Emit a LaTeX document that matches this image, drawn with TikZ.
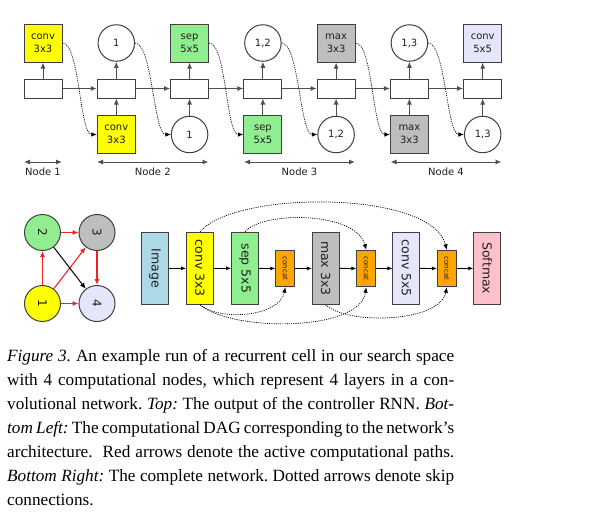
\documentclass[tikz,border=0pt]{standalone}
\usepackage{fontspec}
\usepackage{graphicx}
\setmainfont{DejaVu Sans}
\newfontfamily\capfont{Liberation Serif}
\usetikzlibrary{arrows.meta}
\definecolor{edge}{HTML}{404040}
\definecolor{lin}{HTML}{505050}
\definecolor{txt}{HTML}{202020}
\definecolor{yel}{HTML}{FFFF00}
\definecolor{grn}{HTML}{90EE90}
\definecolor{gry}{HTML}{BEBEBE}
\definecolor{lav}{HTML}{E6E6FA}
\definecolor{lblue}{HTML}{ADD8E6}
\definecolor{orangeC}{HTML}{FFA500}
\definecolor{pinkC}{HTML}{FFC0CB}
\definecolor{redC}{HTML}{EE2222}
\begin{document}
\frenchspacing
\begin{tikzpicture}[x=1pt,y=-1pt,
  every node/.style={text=txt},
  rnn/.style={draw=edge, line width=1pt, fill=white, minimum width=38pt, minimum height=19pt, inner sep=0pt},
  opbox/.style={draw=edge, line width=1pt, minimum width=38pt, minimum height=38pt, inner sep=0pt, align=center, font=\fontsize{10}{13}\selectfont},
  idx/.style={circle, draw=edge, line width=1pt, fill=white, minimum size=36.5pt, inner sep=0pt, font=\fontsize{10}{12}\selectfont},
  flowarrow/.style={draw=lin, line width=1pt, -{Latex[length=6pt,width=5pt]}},
  skiparrow/.style={draw=black, line width=0.7pt, dash pattern=on 1.1pt off 1.1pt, -{Latex[length=5.5pt,width=4.5pt]}},
  spanarrow/.style={draw=lin, line width=1pt, {Latex[length=6pt,width=5pt]}-{Latex[length=6pt,width=5pt]}},
  lab/.style={font=\fontsize{10}{12}\selectfont, inner sep=0pt},
  netbox/.style={draw=edge, line width=1pt, minimum width=26.7pt, minimum height=72pt, inner sep=0pt, font=\fontsize{12.5}{14}\selectfont},
  catbox/.style={draw=edge, line width=1pt, fill=orangeC, minimum width=18.7pt, minimum height=36.4pt, inner sep=0pt, font=\fontsize{7}{8}\selectfont},
  dagnode/.style={circle, draw=edge, line width=1pt, minimum size=36pt, inner sep=0pt, font=\fontsize{12}{14}\selectfont},
  redarrow/.style={draw=redC, line width=1.1pt, -{Latex[length=6pt,width=5pt]}},
  thinarrow/.style={draw=black, line width=0.8pt, -{Latex[length=5pt,width=4pt]}},
  capline/.style={anchor=base west, inner sep=0pt, font=\capfont\fontsize{17.2}{24}\selectfont, text=black},
]
\useasboundingbox (0,0) rectangle (595,514);

% ---------------- top: controller RNN ----------------
\foreach \i/\x in {0/43,1/116.3,2/189.6,3/262.9,4/336.1,5/409.4,6/482.7}{
  \node[rnn] (r\i) at (\x,88.5) {};
}
\node[opbox, fill=yel] (t0) at (43,43) {conv\\3x3};
\node[idx] (t1) at (116.3,43) {1};
\node[opbox, fill=grn] (t2) at (189.6,43) {sep\\5x5};
\node[idx] (t3) at (262.9,43) {1,2};
\node[opbox, fill=gry] (t4) at (336.1,43) {max\\3x3};
\node[idx] (t5) at (409.4,43) {1,3};
\node[opbox, fill=lav] (t6) at (482.7,43) {conv\\5x5};

\node[opbox, fill=yel] (b1) at (116.3,134.5) {conv\\3x3};
\node[idx] (b2) at (189.6,134.5) {1};
\node[opbox, fill=grn] (b3) at (262.9,134.5) {sep\\5x5};
\node[idx] (b4) at (336.1,134.5) {1,2};
\node[opbox, fill=gry] (b5) at (409.4,134.5) {max\\3x3};
\node[idx] (b6) at (482.7,134.5) {1,3};

\foreach \i in {0,...,6}{ \draw[flowarrow] (r\i.north) -- (t\i.south); }
\foreach \i in {1,...,6}{ \draw[flowarrow] (b\i.north) -- (r\i.south); }
\foreach \i/\j in {0/1,1/2,2/3,3/4,4/5,5/6}{
  \draw[flowarrow] (r\i.east) -- (r\j.west);
  \draw[skiparrow] (t\i.east) to[out=0,in=180,looseness=0.45] (b\j.west);
}

% node spans
\coordinate (n1a) at (24,162);  \coordinate (n1b) at (62,162);
\coordinate (n2a) at (97,162);  \coordinate (n2b) at (208.5,162);
\coordinate (n3a) at (244,162); \coordinate (n3b) at (355,162);
\coordinate (n4a) at (390.5,162); \coordinate (n4b) at (501.5,162);
\draw[spanarrow] (n1a) -- (n1b);
\draw[spanarrow] (n2a) -- (n2b);
\draw[spanarrow] (n3a) -- (n3b);
\draw[spanarrow] (n4a) -- (n4b);
\node[lab] (l1) at (43,171.5) {Node 1};
\node[lab] (l2) at (152.8,171.5) {Node 2};
\node[lab] (l3) at (299.5,171.5) {Node 3};
\node[lab] (l4) at (446,171.5) {Node 4};

% ---------------- bottom left: DAG ----------------
\node[dagnode, fill=grn] (d2) at (42.5,232.5) {\rotatebox{-90}{2}};
\node[dagnode, fill=gry] (d3) at (97,232.5) {\rotatebox{-90}{3}};
\node[dagnode, fill=yel] (d1) at (42.5,303.5) {\rotatebox{-90}{1}};
\node[dagnode, fill=lav] (d4) at (97,303.5) {\rotatebox{-90}{4}};
\draw[redarrow] (d1) -- (d2);
\draw[redarrow] (d2) -- (d3);
\draw[redarrow] (d1) -- (d3);
\draw[redarrow] (d1) -- (d4);
\draw[redarrow] (d3) -- (d4);
\draw[draw=black, line width=1pt, -{Latex[length=6pt,width=5pt]}] (d2) -- (d4);

% ---------------- bottom right: network ----------------
\node[netbox, fill=lblue] (img) at (155,268.3) {\rotatebox{-90}{Image}};
\node[netbox, fill=yel] (c33) at (200,268.3) {\rotatebox{-90}{conv 3x3}};
\node[netbox, fill=grn] (s55) at (245,268.3) {\rotatebox{-90}{sep 5x5}};
\node[catbox] (cc1) at (285.3,268.5) {\rotatebox{-90}{concat}};
\node[netbox, fill=gry] (m33) at (325.7,268.3) {\rotatebox{-90}{max 3x3}};
\node[catbox] (cc2) at (366.2,268.5) {\rotatebox{-90}{concat}};
\node[netbox, fill=lav] (c55) at (406.3,268.3) {\rotatebox{-90}{conv 5x5}};
\node[catbox] (cc3) at (446.8,268.5) {\rotatebox{-90}{concat}};
\node[netbox, fill=pinkC] (sm) at (487.2,268.3) {\rotatebox{-90}{Softmax}};

\draw[thinarrow] (img) -- (c33);
\draw[thinarrow] (c33) -- (s55);
\draw[thinarrow] (s55) -- (cc1);
\draw[thinarrow] (cc1) -- (m33);
\draw[thinarrow] (m33) -- (cc2);
\draw[thinarrow] (cc2) -- (c55);
\draw[thinarrow] (c55) -- (cc3);
\draw[thinarrow] (cc3) -- (sm);

\draw[skiparrow] (c33.north) .. controls (235,190) and (432,190) .. (cc3.north);
\draw[skiparrow] (s55.north) .. controls (262,211) and (356,211) .. (cc2.north);
\draw[skiparrow] (c33.south) .. controls (222,322) and (280,316) .. (cc1.south);
\draw[skiparrow] (c33.south) .. controls (232,332) and (360,332) .. (cc2.south);
\draw[skiparrow] (m33.south) .. controls (346,325) and (440,323) .. (cc3.south);

% ---------------- caption ----------------
\node[capline] (cap1) at (7,361.5) {\makebox[447pt][s]{\textit{Figure 3.} An example run of a recurrent cell in our search space}};
\node[capline] (cap2) at (7,385.4) {\makebox[447pt][s]{with 4 computational nodes, which represent 4 layers in a con-}};
\node[capline] (cap3) at (7,409.3) {\makebox[447pt][s]{volutional network. \textit{Top:} The output of the controller RNN. \textit{Bot-}}};
\node[capline] (cap4) at (7,433.2) {\makebox[447pt][s]{\textit{tom Left:} The computational DAG corresponding to the network’s}};
\node[capline] (cap5) at (7,457.1) {\makebox[447pt][s]{architecture.\ \ Red arrows denote the active computational paths.}};
\node[capline] (cap6) at (7,481) {\makebox[447pt][s]{\textit{Bottom Right:} The complete network. Dotted arrows denote skip}};
\node[capline] (cap7) at (7,505) {connections.};
\end{tikzpicture}
\end{document}
